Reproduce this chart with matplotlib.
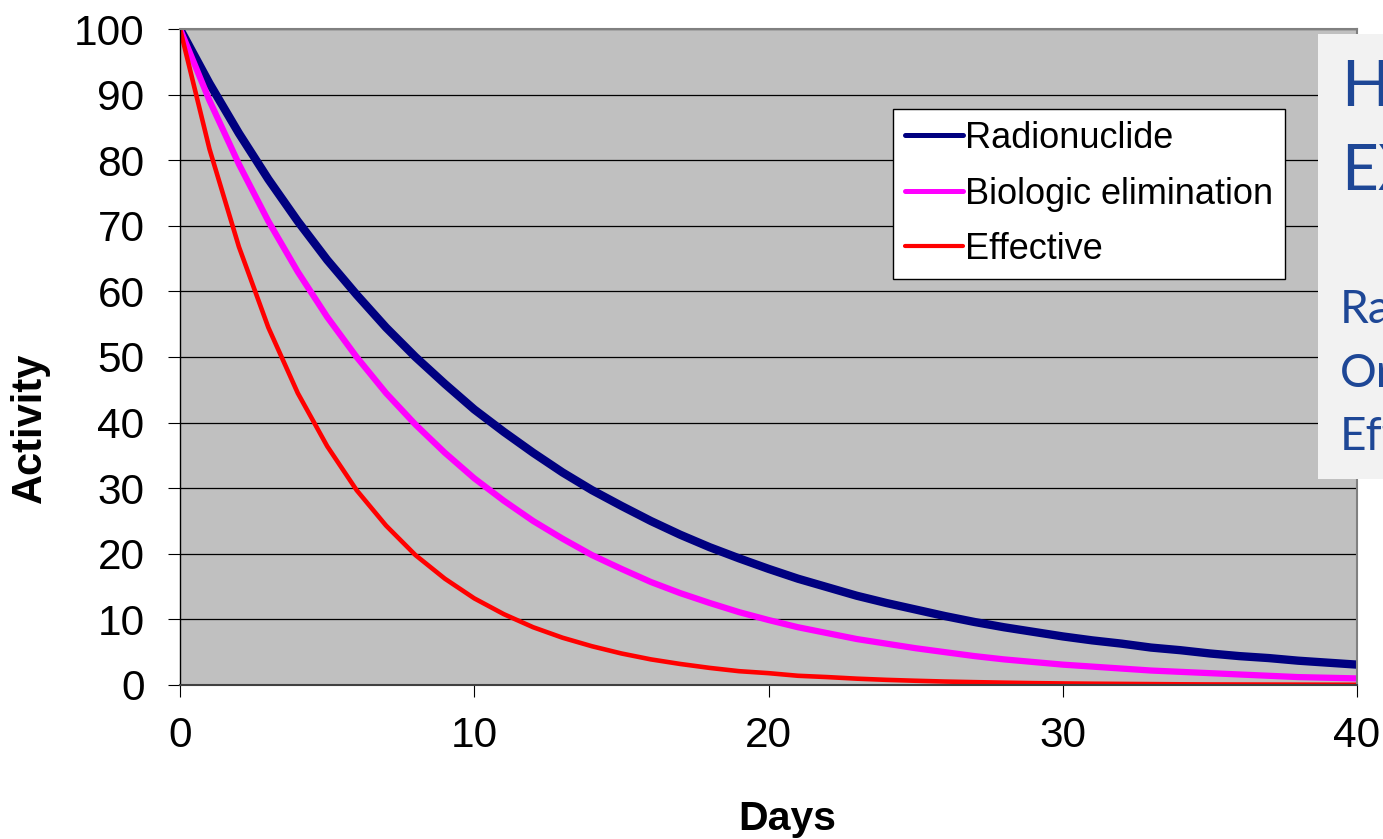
import matplotlib.pyplot as plt
from matplotlib.lines import Line2D
from matplotlib.patches import Rectangle

# Activity vs. time for a radionuclide, biologic elimination and the effective curve
days = [0, 1, 2, 3, 4, 5, 6, 7, 8, 9, 10, 11, 12, 13, 14, 15, 16, 17, 18, 19, 20,
        21, 22, 23, 24, 25, 26, 27, 28, 29, 30, 31, 32, 33, 34, 35, 36, 37, 38, 39, 40]

radionuclide = [100, 91.7, 84.1, 77.1, 70.7, 64.8, 59.5, 54.5, 50.0, 45.9, 42.0,
                38.6, 35.4, 32.4, 29.7, 27.3, 25.0, 22.9, 21.0, 19.3, 17.7,
                16.2, 14.9, 13.6, 12.5, 11.5, 10.5, 9.6, 8.8, 8.1, 7.4,
                6.8, 6.3, 5.7, 5.3, 4.8, 4.4, 4.1, 3.7, 3.4, 3.1]

biologic = [100, 89.1, 79.4, 70.7, 63.0, 56.1, 50.0, 44.5, 39.7, 35.4, 31.5,
            28.1, 25.0, 22.3, 19.8, 17.7, 15.7, 14.0, 12.5, 11.1, 9.9,
            8.8, 7.9, 7.0, 6.3, 5.6, 5.0, 4.4, 3.9, 3.5, 3.1,
            2.8, 2.5, 2.2, 2.0, 1.8, 1.6, 1.4, 1.2, 1.1, 1.0]

effective = [100, 81.7, 66.8, 54.5, 44.5, 36.4, 29.7, 24.3, 19.8, 16.2, 13.2,
             10.8, 8.8, 7.2, 5.9, 4.8, 3.9, 3.2, 2.6, 2.1, 1.8,
             1.4, 1.2, 0.96, 0.78, 0.64, 0.52, 0.43, 0.35, 0.28, 0.23,
             0.19, 0.16, 0.13, 0.10, 0.08, 0.07, 0.06, 0.05, 0.04, 0.03]

labels = ['Radionuclide', 'Biologic elimination', 'Effective']
colors = ['#000080', '#FF00FF', '#FF0000']
widths = [6.0, 4.5, 3.3]

x_ticks = [0, 10, 20, 30, 40]
y_ticks = [0, 10, 20, 30, 40, 50, 60, 70, 80, 90, 100]

panel_lines = ['HALF-LIFE', 'EXAMPLE']
panel_items = ['Radionuclide', 'Organ', 'Effective']

plt.rcParams['font.family'] = ['Liberation Sans', 'DejaVu Sans']

fig = plt.figure(figsize=(13.83, 8.39), dpi=100)
ax = fig.add_axes([0.1302, 0.1836, 0.8510, 0.7818])
ax.set_facecolor('#C0C0C0')

for series, lab, col, lw in zip([radionuclide, biologic, effective], labels, colors, widths):
    ax.plot(days, series, color=col, lw=lw, label=lab, solid_capstyle='butt')

ax.set_xlim(0, 40)
ax.set_ylim(0, 100)
ax.set_xticks(x_ticks)
ax.set_yticks(y_ticks)
ax.tick_params(axis='both', direction='out', length=8.6, width=0.8, labelsize=30.5)
ax.tick_params(axis='y', pad=17)
ax.tick_params(axis='x', pad=14)

ax.yaxis.grid(True, color='black', lw=0.9)
ax.set_axisbelow(True)

ax.spines['left'].set_color('black')
ax.spines['left'].set_linewidth(1.0)
ax.spines['bottom'].set_color('#404040')
ax.spines['bottom'].set_linewidth(1.5)
for s in ['top', 'right']:
    ax.spines[s].set_color('#808080')
    ax.spines[s].set_linewidth(1.5)

# axis titles sit a bit off-centre in the original
ax.set_xlabel('Days', fontsize=29.5, fontweight='bold')
ax.xaxis.set_label_coords(0.516, -0.221, transform=ax.transAxes)
ax.xaxis.label.set_va('baseline')
ax.set_ylabel('Activity', fontsize=30, fontweight='bold')
ax.yaxis.set_label_coords(-0.1274, 0.392, transform=ax.transAxes)
ax.yaxis.label.set_va('center')

handles = [Line2D([], [], color=c, lw=lw, solid_capstyle='round')
           for c, lw in zip(colors, [3.6, 3.6, 3.0])]
leg = ax.legend(handles, labels, loc='upper left', bbox_to_anchor=(0.6058, 0.878),
                fontsize=26, frameon=True, fancybox=False, framealpha=1,
                edgecolor='black', borderpad=0.33, handlelength=1.6,
                handletextpad=0.05, labelspacing=0.57, borderaxespad=0)
leg.get_frame().set_linewidth(1.0)

# slide panel overlapping the chart on the right edge
fig.patches.append(Rectangle((0.953, 0.4291), 0.06, 0.5304, transform=fig.transFigure,
                             facecolor='#F2F2F2', edgecolor='none', zorder=5))
blue = '#1E4796'
for txt, y in zip(panel_lines, [0.8737, 0.7735]):
    fig.text(0.9696, y, txt, fontsize=46, color=blue, family='Lato', va='baseline', zorder=6)
for txt, y in zip(panel_items, [0.615, 0.5387, 0.4636]):
    fig.text(0.9690, y, txt, fontsize=33, color=blue, family='Lato', va='baseline', zorder=6)

fig.savefig('out.png', dpi=100)
